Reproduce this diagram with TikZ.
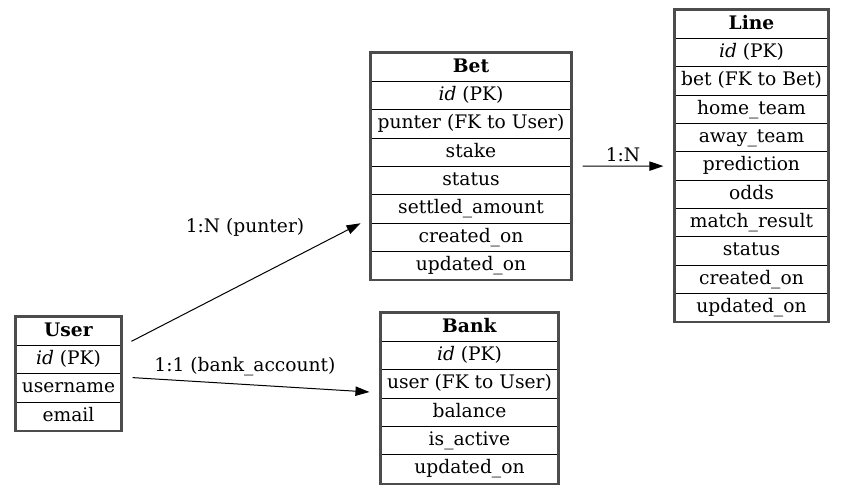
\documentclass[tikz,border=0pt]{standalone}
\usepackage{fontspec}
\setmainfont{DejaVu Serif}
\usetikzlibrary{arrows.meta,fit}
\newlength\pxu
\setlength\pxu{0.75pt}
\tikzset{
  cell/.style={draw, line width=0.75pt, inner sep=0pt, minimum height=28.35\pxu,
    text height=11pt, text depth=3.5pt, font=\fontsize{14}{17}\selectfont},
  frame/.style={draw, line width=1.6pt, black!70, inner sep=0pt},
  rel/.style={-{Triangle[length=10.5pt,width=7pt]}, line width=0.75pt,
    shorten <=7.5pt, shorten >=7.5pt},
  lbl/.style={inner sep=0pt, font=\fontsize{14}{17}\selectfont}
}
\begin{document}
\begin{tikzpicture}[x=0.75pt,y=-0.75pt]
\useasboundingbox (0,0) rectangle (844,495);
\foreach \txt [count=\i from 0] in {\textbf{User},\textit{id} (PK),username,email}
  \node[cell, minimum width=105\pxu] (user-\i) at (68.5,{331.2+28.35*\i}) {\txt};
\foreach \txt [count=\i from 0] in {\textbf{Bet},\textit{id} (PK),punter (FK to User),stake,status,settled\_amount,created\_on,updated\_on}
  \node[cell, minimum width=200\pxu] (bet-\i) at (471,{67.2+28.35*\i}) {\txt};
\foreach \txt [count=\i from 0] in {\textbf{Line},\textit{id} (PK),bet (FK to Bet),home\_team,away\_team,prediction,odds,match\_result,status,created\_on,updated\_on}
  \node[cell, minimum width=153\pxu] (line-\i) at (751.5,{24.2+28.35*\i}) {\txt};
\foreach \txt [count=\i from 0] in {\textbf{Bank},\textit{id} (PK),user (FK to User),balance,is\_active,updated\_on}
  \node[cell, minimum width=177\pxu] (bank-\i) at (469.5,{327.2+28.35*\i}) {\txt};
\node[frame, fit=(user-0)(user-3)] (user) {};
\node[frame, fit=(bet-0)(bet-7)] (bet) {};
\node[frame, fit=(line-0)(line-10)] (line) {};
\node[frame, fit=(bank-0)(bank-5)] (bank) {};
\draw[rel] (user) -- (bet);
\draw[rel] (user) -- (bank);
\draw[rel] (bet) -- (line);
\node[lbl] (punter-lbl) at (245,227) {1:N (punter)};
\node[lbl] (account-lbl) at (245,367) {1:1 (bank\_account)};
\node[lbl] (lines-lbl) at (623,155) {1:N};
\end{tikzpicture}
\end{document}
